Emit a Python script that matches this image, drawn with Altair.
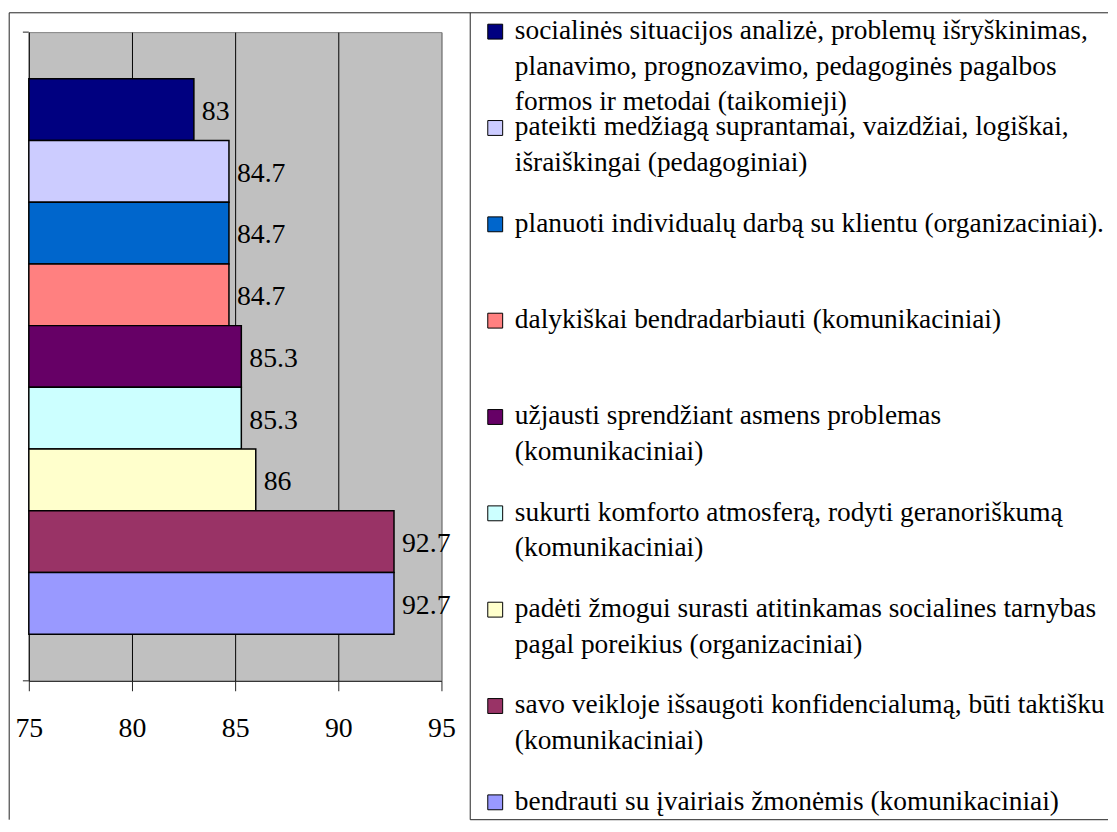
import altair as alt
import pandas as pd

# ---- data ----
labels = [
    "socialinės situacijos analizė, problemų išryškinimas,\nplanavimo, prognozavimo, pedagoginės pagalbos\nformos ir metodai (taikomieji)",
    "pateikti medžiagą suprantamai, vaizdžiai, logiškai,\nišraiškingai (pedagoginiai)",
    "planuoti individualų darbą su klientu (organizaciniai).",
    "dalykiškai bendradarbiauti (komunikaciniai)",
    "užjausti sprendžiant asmens problemas\n(komunikaciniai)",
    "sukurti komforto atmosferą, rodyti geranoriškumą\n(komunikaciniai)",
    "padėti žmogui surasti atitinkamas socialines tarnybas\npagal poreikius (organizaciniai)",
    "savo veikloje išsaugoti konfidencialumą, būti taktišku\n(komunikaciniai)",
    "bendrauti su įvairiais žmonėmis (komunikaciniai)",
]
values = [83, 84.7, 84.7, 84.7, 85.3, 85.3, 86, 92.7, 92.7]
colors = ["#000080", "#CCCCFF", "#0066CC", "#FF8080", "#660066",
          "#CCFFFF", "#FFFFCC", "#993366", "#9999FF"]
x_ticks = [75, 80, 85, 90, 95]

df = pd.DataFrame({"label": labels, "value": values})
one = pd.DataFrame({"k": [0]})

FONT = "Liberation Serif"
NUM_SIZE = 28
LEG_SIZE = 27.6
DARK = "#222222"

PLOT_W, PLOT_H = 416, 654
GAP = 29
LEG_W = 643
BOTTOM = 794

color_enc = alt.Color("label:N", scale=alt.Scale(domain=labels, range=colors), legend=None)

y_enc = alt.Y(
    "label:N",
    scale=alt.Scale(domain=labels, paddingInner=0, paddingOuter=0.755),
    axis=alt.Axis(labels=False, ticks=False, domainColor=DARK, domainWidth=1, title=None),
)
x_enc = alt.X(
    "value:Q",
    scale=alt.Scale(domain=[x_ticks[0], x_ticks[-1]], zero=False, nice=False),
    axis=alt.Axis(
        values=x_ticks, title=None, labelFont=FONT, labelFontSize=NUM_SIZE,
        labelColor="black", labelFlush=False, labelOverlap=False,
        labelPadding=24, tickSize=10, tickColor=DARK, domainColor=DARK,
        grid=True, gridWidth=1, gridOpacity=1,
        gridColor={"condition": {"test": "datum.value >= 95", "value": "#808080"},
                   "value": "#000000"},
    ),
)

bars = alt.Chart(df).mark_bar(stroke="#000000", strokeWidth=1.5).encode(
    y=y_enc, x=x_enc, x2=alt.datum(x_ticks[0]), color=color_enc
)

value_labels = alt.Chart(df).mark_text(
    align="left", baseline="middle", dx=8, dy=2.5, font=FONT, fontSize=NUM_SIZE, color="black"
).encode(y=alt.Y("label:N"), x=alt.X("value:Q"), text=alt.Text("value:Q"))

# decorations: outer frame and small y-axis end ticks
frame_left = alt.Chart(one).mark_rule(color=DARK, strokeWidth=1).encode(
    x=alt.value(-19.8), y=alt.value(-19.5), y2=alt.value(BOTTOM)
)
frame_top = alt.Chart(one).mark_rule(color=DARK, strokeWidth=1).encode(
    x=alt.value(-19.8), x2=alt.value(PLOT_W + GAP + LEG_W), y=alt.value(-19.5)
)
ytick_top = alt.Chart(one).mark_rule(color=DARK, strokeWidth=1).encode(
    x=alt.value(-6), x2=alt.value(0), y=alt.value(0)
)
ytick_bot = alt.Chart(one).mark_rule(color=DARK, strokeWidth=1).encode(
    x=alt.value(-6), x2=alt.value(0), y=alt.value(PLOT_H)
)

plot = alt.layer(
    bars, value_labels, frame_left, frame_top, ytick_top, ytick_bot
).properties(
    width=PLOT_W, height=PLOT_H,
    view=alt.ViewBackground(fill="#C0C0C0", stroke="#808080", strokeWidth=1),
)

# ---- legend panel ----
leg_y = alt.Y("label:N", scale=alt.Scale(type="point", domain=labels, range=[7, 784], padding=0), axis=None)

leg_left = alt.Chart(one).mark_rule(color=DARK, strokeWidth=1).encode(
    x=alt.value(0), y=alt.value(-19.5), y2=alt.value(BOTTOM)
)
leg_bottom = alt.Chart(one).mark_rule(color=DARK, strokeWidth=1).encode(
    x=alt.value(0), x2=alt.value(LEG_W), y=alt.value(BOTTOM)
)
leg_squares = alt.Chart(df).mark_square(
    size=225, stroke="#000000", strokeWidth=1, opacity=1, filled=True, yOffset=-7.5
).encode(y=leg_y, x=alt.value(25.2), color=color_enc)
leg_text = alt.Chart(df).mark_text(
    align="left", baseline="alphabetic", lineBreak="\n", lineHeight=35.8,
    font=FONT, fontSize=LEG_SIZE, color="black"
).encode(y=leg_y, x=alt.value(45), text="label:N")

legend = alt.layer(leg_left, leg_bottom, leg_squares, leg_text).properties(
    width=LEG_W, height=PLOT_H,
    view=alt.ViewBackground(fill="white", stroke="transparent"),
)

chart = alt.hconcat(plot, legend, spacing=GAP, bounds="flush").resolve_scale(
    x="independent", y="independent", color="independent"
).properties(padding=0, background="white").configure_view(stroke="transparent")

chart.save("out.html", embed_options={"renderer": "svg", "actions": False})
